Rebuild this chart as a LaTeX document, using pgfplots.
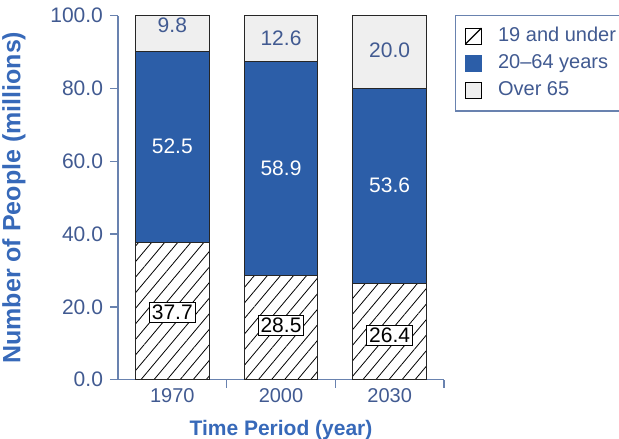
\documentclass[border=0pt]{standalone}
\usepackage{pgfplots}
\pgfplotsset{compat=1.18}
\usepackage{fontspec}
\setmainfont{Liberation Sans}
\usetikzlibrary{patterns.meta}

\definecolor{barblue}{RGB}{44,94,168}
\definecolor{topgray}{RGB}{239,239,239}
\definecolor{axisline}{RGB}{105,130,175}
\definecolor{ticktext}{RGB}{65,90,145}
\definecolor{labelblue}{RGB}{55,105,185}

\begin{document}
\begin{tikzpicture}
\begin{axis}[
  name=main,
  scale only axis,
  width=163pt, height=182pt,
  xmin=0, xmax=3, ymin=0, ymax=100,
  axis lines*=left,
  axis line style={axisline, line width=0.7pt},
  tick style={axisline, line width=0.7pt},
  tick align=outside,
  major tick length=4pt,
  ybar stacked, bar width=0.68,
  xtick={1,2,3}, xticklabels={},
  extra x ticks={0.5,1.5,2.5},
  extra x tick labels={1970,2000,2030},
  extra x tick style={major tick length=0pt},
  ytick={0,20,40,60,80,100},
  /pgf/number format/.cd, fixed, fixed zerofill, precision=1, assume math mode=true,
  /pgfplots/.cd,
  tick label style={text=ticktext},
  xticklabel style={font=\fontsize{10}{12}\selectfont, yshift=-1pt},
  yticklabel style={font=\fontsize{10.5}{12}\selectfont},
  ylabel={Number of People (millions)},
  xlabel={Time Period (year)},
  every axis y label/.style={at={(rel axis cs:0,0.5)}, xshift=-52pt, rotate=90, anchor=center,
    font=\fontsize{12.5}{14}\selectfont\bfseries, text=labelblue},
  every axis x label/.style={at={(rel axis cs:0.5,0)}, yshift=-25pt, anchor=center,
    font=\fontsize{10.5}{12}\selectfont\bfseries, text=labelblue},
  legend style={at={(rel axis cs:1,1)}, anchor=north west, xshift=5.5pt, yshift=0.5pt,
    draw=axisline, line width=0.7pt, font=\fontsize{10}{12}\selectfont, text=ticktext,
    inner xsep=4.5pt, inner ysep=4pt, row sep=1pt,
    /tikz/every odd column/.append style={column sep=6pt}},
  legend cell align=left,
]
\addlegendimage{legend image code/.code={
  \draw[black, line width=0.6pt, fill=white] (0pt,-4pt) rectangle (8pt,4pt);
  \draw[black, line width=0.6pt] (0pt,-4pt) -- (8pt,4pt);}}
\addlegendentry{19 and under}
\addlegendimage{legend image code/.code={
  \fill[barblue] (0pt,-4pt) rectangle (8pt,4pt);}}
\addlegendentry{20--64 years}
\addlegendimage{legend image code/.code={
  \draw[black, line width=0.6pt, fill=topgray] (0pt,-4pt) rectangle (8pt,4pt);}}
\addlegendentry{Over 65}

% 19 and under
\addplot[forget plot, draw=black!85, line width=0.5pt,
  pattern={Lines[angle=50, distance=5pt, line width=0.4pt]}, pattern color=black]
  coordinates {(0.5,37.7) (1.5,28.5) (2.5,26.4)};
% 20-64 years
\addplot[forget plot, draw=black!85, line width=0.5pt, fill=barblue]
  coordinates {(0.5,52.5) (1.5,58.9) (2.5,53.6)};
% over 65
\addplot[forget plot, draw=black!85, line width=0.5pt, fill=topgray]
  coordinates {(0.5,9.8) (1.5,12.6) (2.5,20.0)};

\coordinate (sw) at (rel axis cs:0,0);
\coordinate (ne) at (rel axis cs:1,1);
\end{axis}

% value labels, on an overlaid axis with the same scale
\begin{axis}[
  scale only axis,
  width=163pt, height=182pt,
  xmin=0, xmax=3, ymin=0, ymax=100,
  hide axis,
  nodes near coords, point meta=explicit symbolic,
]
\addplot[draw=none, mark=none,
  nodes near coords style={anchor=center, draw=black, fill=white, text=black,
    inner sep=1.2pt, line width=0.5pt, font=\fontsize{10.5}{12}\selectfont}]
  coordinates {(0.5,18.5)[37.7] (1.5,14.9)[28.5] (2.5,12.1)[26.4]};
\addplot[draw=none, mark=none,
  nodes near coords style={anchor=center, text=white, font=\fontsize{10.5}{12}\selectfont}]
  coordinates {(0.5,64.2)[52.5] (1.5,58.2)[58.9] (2.5,53.3)[53.6]};
\addplot[draw=none, mark=none,
  nodes near coords style={anchor=center, text=ticktext, font=\fontsize{10.5}{12}\selectfont}]
  coordinates {(0.5,97.5)[9.8] (1.5,93.7)[12.6] (2.5,90.6)[20.0]};
\end{axis}

\pgfresetboundingbox
\useasboundingbox ([shift={(-59pt,-29.5pt)}]sw) rectangle ([shift={(87.5pt,7.85pt)}]ne);
\end{tikzpicture}
\end{document}
